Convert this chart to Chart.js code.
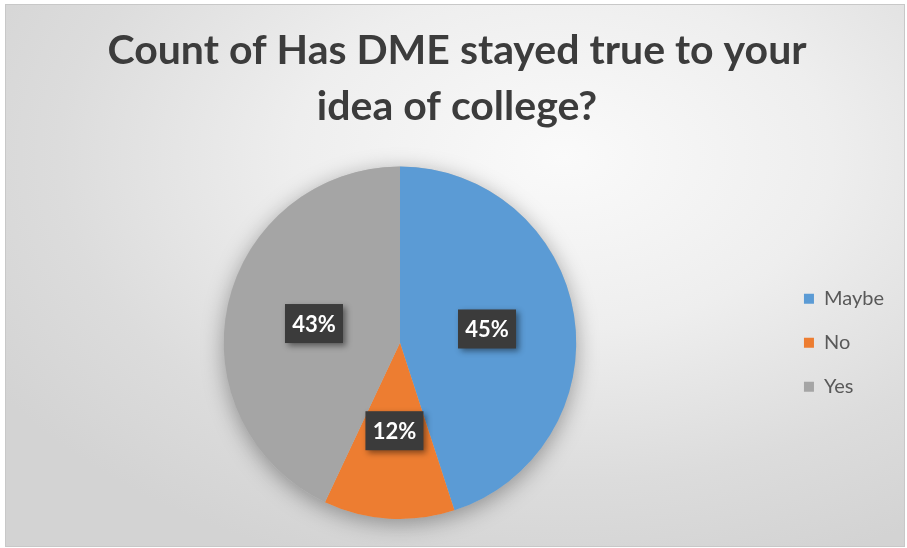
<!DOCTYPE html>
<html>
<head>
<meta charset="utf-8">
<script src="https://cdn.jsdelivr.net/npm/chart.js@4/dist/chart.umd.min.js"></script>
<style>
  html, body { margin: 0; padding: 0; background: #fff; }
  #frame {
    position: absolute;
    left: 5px; top: 4px;
    width: 898px; height: 541px;
    border: 1px solid #c8c8c8;
    background: radial-gradient(ellipse 75% 80% at 62% 28%, #fafafa 0%, #eeeeee 40%, #dcdcdc 75%, #d3d3d3 100%);
  }
  canvas { display: block; }
</style>
</head>
<body>
<div id="frame"><canvas id="pie" width="898" height="541"></canvas></div>
<script>
const categories = ["Maybe", "No", "Yes"];
const shares = [45, 12, 43];
const sliceColors = ["#5B9BD5", "#ED7D31", "#A5A5A5"];
const titleLines = ["Count of Has DME stayed true to your", "idea of college?"];

// soft shadow under the whole pie, drawn before the slices
const pieShadow = {
  id: "pieShadow",
  beforeDatasetsDraw(chart) {
    const arc = chart.getDatasetMeta(0).data[0];
    if (!arc) return;
    const ctx = chart.ctx;
    ctx.save();
    ctx.shadowColor = "rgba(0,0,0,0.35)";
    ctx.shadowBlur = 22;
    ctx.shadowOffsetY = 5;
    ctx.fillStyle = "#bbbbbb";
    ctx.beginPath();
    ctx.arc(arc.x, arc.y, arc.outerRadius, 0, Math.PI * 2);
    ctx.fill();
    ctx.restore();
  }
};

// dark label boxes with percent text
const percentLabels = {
  id: "percentLabels",
  afterDatasetsDraw(chart) {
    const ctx = chart.ctx;
    const vals = chart.data.datasets[0].data;
    const total = vals.reduce((a, b) => a + b, 0);
    chart.getDatasetMeta(0).data.forEach(function (arc, i) {
      const p = arc.tooltipPosition();
      const txt = Math.round(vals[i] / total * 100) + "%";
      const w = 58, h = 39;
      ctx.save();
      ctx.shadowColor = "rgba(0,0,0,0.45)";
      ctx.shadowBlur = 6;
      ctx.shadowOffsetX = 3;
      ctx.shadowOffsetY = 3;
      ctx.fillStyle = "#3b3b3b";
      ctx.fillRect(p.x - w / 2, p.y - h / 2, w, h);
      ctx.restore();
      ctx.save();
      ctx.fillStyle = "#ffffff";
      ctx.font = "bold 22px Lato";
      ctx.textAlign = "center";
      ctx.textBaseline = "middle";
      ctx.fillText(txt, p.x, p.y + 1);
      ctx.restore();
    });
  }
};

new Chart(document.getElementById("pie"), {
  type: "pie",
  data: {
    labels: categories,
    datasets: [
      {
        data: shares,
        backgroundColor: sliceColors,
        borderWidth: 0,
      },
    ],
  },
  options: {
    responsive: false,
    animation: false,
    layout: {
      padding: { left: 14, right: 10, top: 0, bottom: 27 },
    },
    plugins: {
      title: {
        display: true,
        text: titleLines,
        color: "#3c3c3c",
        font: { family: "Lato", size: 41, weight: "bold", lineHeight: 1.36 },
        padding: { top: 18, bottom: 32 },
      },
      legend: {
        position: "right",
        fullSize: false,
        labels: {
          boxWidth: 10,
          boxHeight: 10,
          padding: 24,
          color: "#595959",
          font: { family: "Lato", size: 20 },
        },
      },
      tooltip: { enabled: false },
    },
  },
  plugins: [pieShadow, percentLabels],
});
</script>
</body>
</html>
